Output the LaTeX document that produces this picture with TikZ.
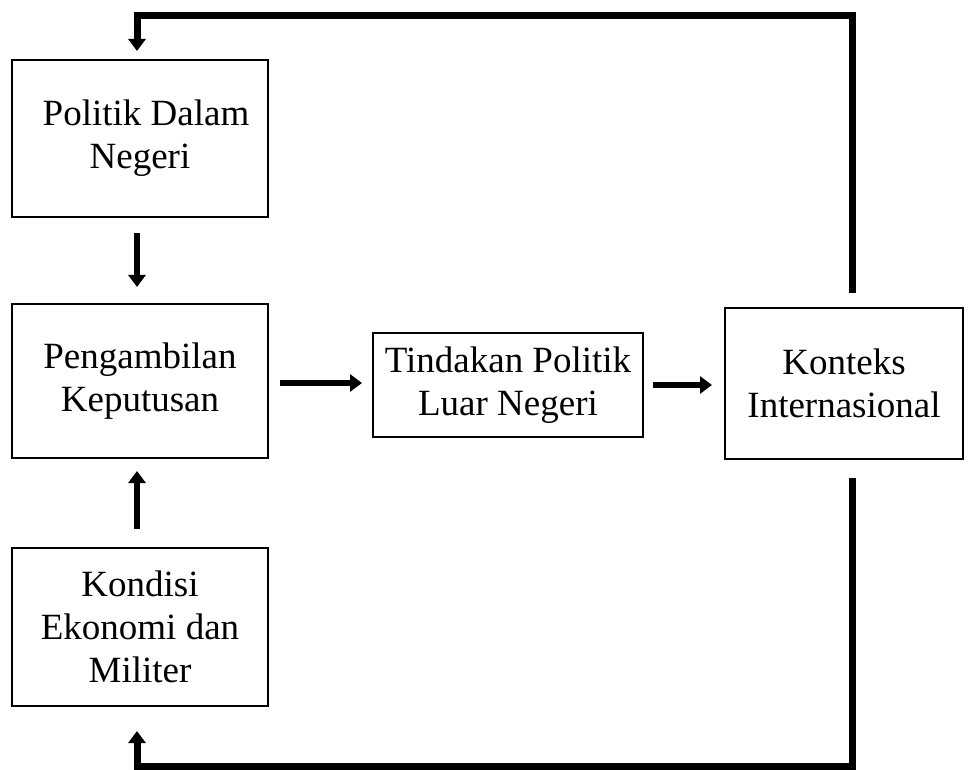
\documentclass[tikz,border=0pt]{standalone}
\usepackage{fontspec}
\setmainfont{Liberation Serif}
\usetikzlibrary{arrows.meta}

\begin{document}
\begin{tikzpicture}[x=0.5pt, y=-0.5pt,
      every node/.style = {shape=rectangle, draw, line width=1pt,
        align=center, inner sep=0pt,
        font=\fontsize{18.5}{21.5}\selectfont},
      arr/.style = {line width=3pt,
        -{Triangle[width=8.5pt,length=6pt]}},
      loop/.style = {arr, line width=3.5pt, line cap=rect}]
      \useasboundingbox (0,0) rectangle (974,770);
      \node[minimum width=128pt, minimum height=78.5pt] (politik) at (140,138.5)
        {\hspace*{6pt}Politik Dalam\\Negeri};
      \node[minimum width=128pt, minimum height=77pt] (keputusan) at (140,381)
        {Pengambilan\\Keputusan};
      \node[minimum width=128pt, minimum height=79pt] (kondisi) at (140,627)
        {Kondisi\\Ekonomi dan\\Militer};
      \node[minimum width=135pt, minimum height=52pt] (tindakan) at (508,385)
        {Tindakan Politik\\Luar Negeri};
      \node[minimum width=119pt, minimum height=75.5pt] (konteks) at (844,383.5)
        {Konteks\\Internasional};
      \draw[arr, shorten <=7.5pt, shorten >=8pt]
        ([xshift=-1.5pt]politik.south) -- ([xshift=-1.5pt]keputusan.north);
      \draw[arr, shorten <=9pt, shorten >=6pt]
        ([xshift=-1.5pt]kondisi.north) -- ([xshift=-1.5pt]keputusan.south);
      \draw[arr, shorten <=5.5pt, shorten >=5pt]
        ([yshift=-1pt]keputusan.east) -- ([yshift=-1pt]keputusan.east -| tindakan.west);
      \draw[arr, shorten <=4.5pt, shorten >=6pt]
        (tindakan.east) -- (tindakan.east -| konteks.west);
      \draw[loop] ([xshift=4pt,yshift=9pt]konteks.north)
        |- ([xshift=-1.5pt,yshift=21.5pt]politik.north)
        -- ([xshift=-1.5pt,yshift=4pt]politik.north);
      \draw[loop] ([xshift=4pt,yshift=-10.5pt]konteks.south)
        |- ([xshift=-1.5pt,yshift=-29.5pt]kondisi.south)
        -- ([xshift=-1.5pt,yshift=-12pt]kondisi.south);
\end{tikzpicture}
\end{document}
